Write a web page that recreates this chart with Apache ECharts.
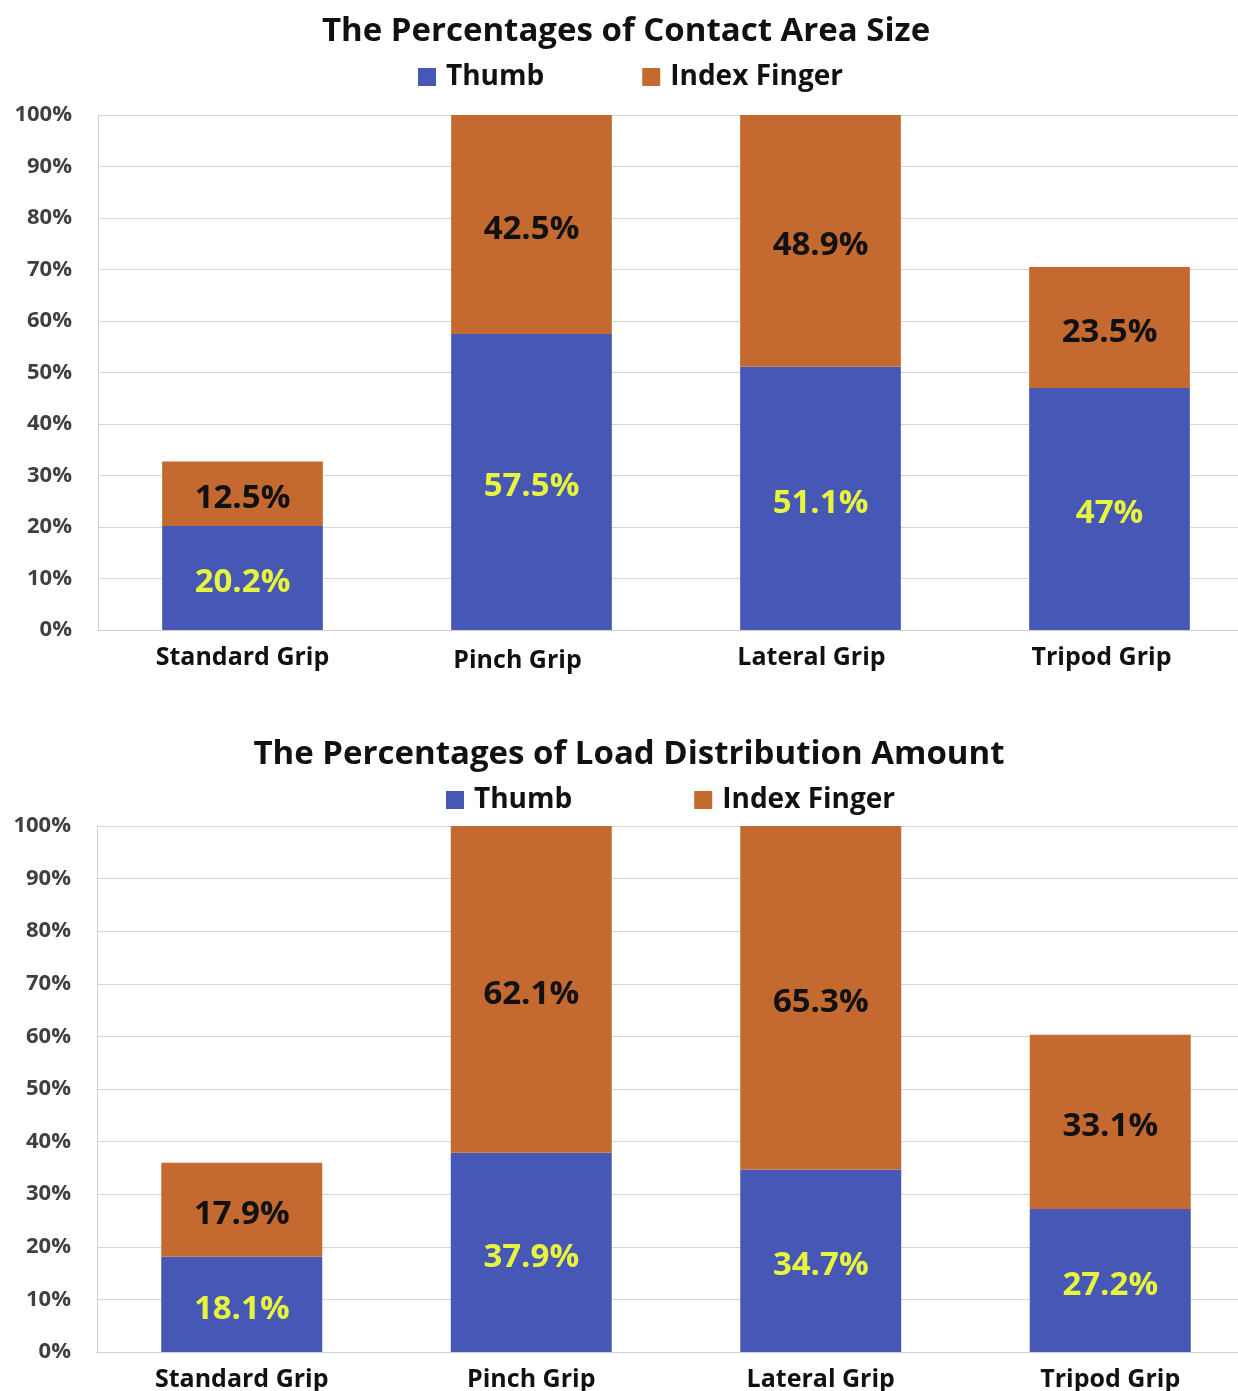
<!DOCTYPE html>
<html><head><meta charset="utf-8">
<script src="https://cdn.jsdelivr.net/npm/echarts@6/dist/echarts.min.js"></script>
<style>html,body{margin:0;padding:0;background:#fff}#c{width:1238px;height:1391px}</style>
</head><body><div id="c"></div>
<script>
const categories = ['Standard Grip', 'Pinch Grip', 'Lateral Grip', 'Tripod Grip'];
const contactThumb = [20.2, 57.5, 51.1, 47];
const contactIndex = [12.5, 42.5, 48.9, 23.5];
const loadThumb = [18.1, 37.9, 34.7, 27.2];
const loadIndex = [17.9, 62.1, 65.3, 33.1];
const yTicks = [0, 10, 20, 30, 40, 50, 60, 70, 80, 90, 100];
const titles = ['The Percentages of Contact Area Size', 'The Percentages of Load Distribution Amount'];
const seriesNames = ['Thumb', 'Index Finger'];

const FONT = '"Open Sans", "Noto Sans", sans-serif';
const BLUE = '#4657b6';
const ORANGE = '#c4692f';

// label nudges (style only) for the top chart's category labels
const topLabelPad = [[0, 0, 0, 0], [3, 28, 0, 0], [0, 18, 0, 0], [0, 16, 0, 0]];

const chart = echarts.init(document.getElementById('c'));

function xAxis(gi, pads) {
  return {
    type: 'category', gridIndex: gi,
    data: categories.map((c, i) => pads ? {value: c, textStyle: {padding: pads[i]}} : c),
    axisLine: {show: true, lineStyle: {color: '#d0d0d0', width: 1}},
    axisTick: {show: false},
    axisLabel: {color: '#111', fontFamily: FONT, fontWeight: 'bold', fontSize: 25, margin: 15}
  };
}
function yAxis(gi) {
  return {
    type: 'value', gridIndex: gi, min: yTicks[0], max: yTicks[yTicks.length - 1], interval: 10,
    axisLine: {show: true, lineStyle: {color: '#d0d0d0', width: 1}},
    axisTick: {show: false},
    splitLine: {lineStyle: {color: '#d6d6d6', width: 1}},
    axisLabel: {color: '#404040', fontFamily: FONT, fontWeight: 'bold', fontSize: 22, margin: 26,
      formatter: v => v + '%'}
  };
}
function lbl(color) {
  return {show: true, position: 'inside', offset: [0, 5], color: color, fontFamily: FONT, fontWeight: 'bold', fontSize: 33,
    formatter: p => p.value + '%'};
}
function bars(gi, thumb, index) {
  return [
    {name: seriesNames[0], type: 'bar', stack: 's' + gi, xAxisIndex: gi, yAxisIndex: gi, data: thumb,
      barWidth: '55.6%', itemStyle: {color: BLUE}, label: lbl('#e8f53c')},
    {name: seriesNames[1], type: 'bar', stack: 's' + gi, xAxisIndex: gi, yAxisIndex: gi, data: index,
      barWidth: '55.6%', itemStyle: {color: ORANGE}, label: lbl('#111')}
  ];
}
function legend(left, top, gap) {
  return {
    left: left, top: top, itemWidth: 18, itemHeight: 18, itemGap: gap, icon: 'rect',
    data: seriesNames,
    textStyle: {color: '#111', fontFamily: FONT, fontWeight: 'bold', fontSize: 28, padding: [0, 0, 0, 5]}
  };
}

chart.setOption({
  animation: false,
  backgroundColor: '#fff',
  title: [
    {text: titles[0], left: 621, top: 10, textAlign: 'center',
      textStyle: {color: '#111', fontFamily: FONT, fontWeight: 'bold', fontSize: 33}},
    {text: titles[1], left: 624, top: 733, textAlign: 'center',
      textStyle: {color: '#111', fontFamily: FONT, fontWeight: 'bold', fontSize: 33}}
  ],
  legend: [legend(413, 58, 98), legend(441, 781, 122)],
  grid: [
    {left: 98, top: 115, width: 1156, height: 515, outerBoundsMode: 'none'},
    {left: 97, top: 826, width: 1158, height: 526, outerBoundsMode: 'none'}
  ],
  xAxis: [xAxis(0, topLabelPad), xAxis(1)],
  yAxis: [yAxis(0), yAxis(1)],
  series: [...bars(0, contactThumb, contactIndex), ...bars(1, loadThumb, loadIndex)]
});
</script></body></html>
